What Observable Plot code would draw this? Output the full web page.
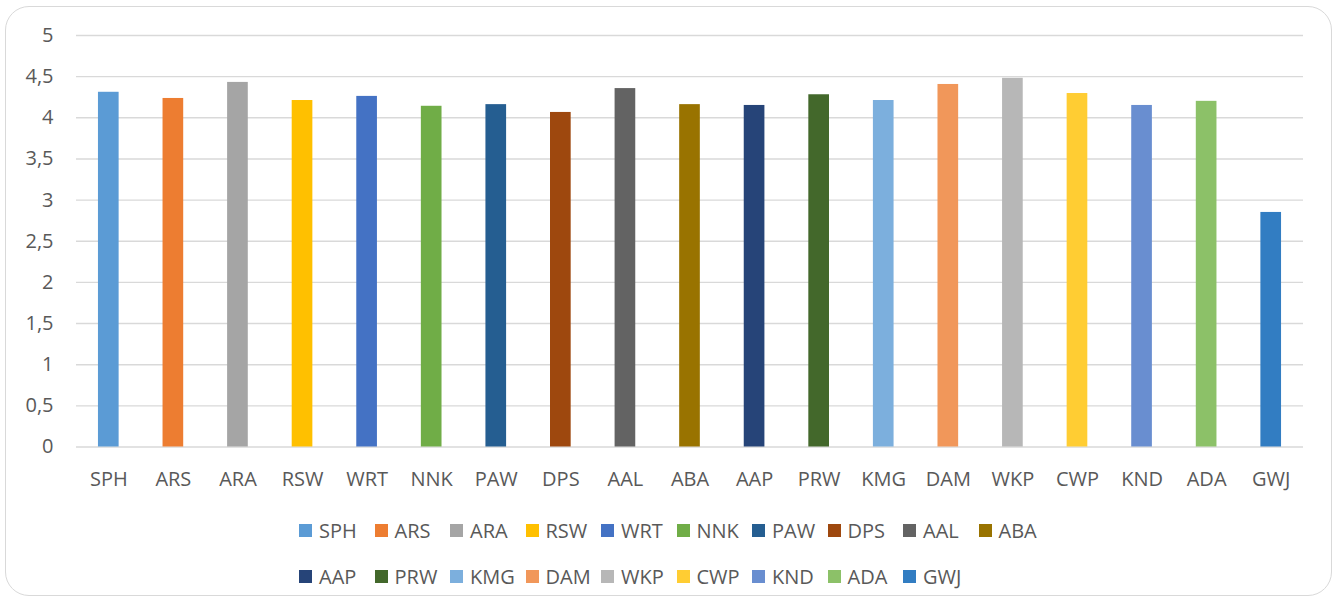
<!DOCTYPE html>
<html>
<head>
<meta charset="utf-8">
<script src="https://cdn.jsdelivr.net/npm/d3@7"></script>
<script src="https://cdn.jsdelivr.net/npm/@observablehq/plot@0.6"></script>
<style>
  html, body { margin: 0; padding: 0; background: #fff; }
  body { width: 1339px; height: 602px; position: relative; overflow: hidden; font-family: "Open Sans", sans-serif; }
  #frame { position: absolute; left: 5px; top: 6px; width: 1327px; height: 590px; border: 1.3px solid #d9d9d9; border-radius: 24px; box-sizing: border-box; }
  #chart { position: absolute; left: 0; top: 0; }
  #legend { position: absolute; left: 299px; top: 516px; display: grid; grid-template-columns: repeat(10, 75.5px); row-gap: 17px; color: #595959; font-size: 20px; }
  .item { display: flex; align-items: center; height: 29px; white-space: nowrap; }
  .sw { width: 13px; height: 13px; margin-right: 7px; flex: none; }
</style>
</head>
<body>
<div id="frame"></div>
<div id="chart"></div>
<div id="legend"></div>
<script>
const categories = ["SPH","ARS","ARA","RSW","WRT","NNK","PAW","DPS","AAL","ABA","AAP","PRW","KMG","DAM","WKP","CWP","KND","ADA","GWJ"];
const values = [4.31,4.235,4.43,4.21,4.26,4.14,4.16,4.065,4.355,4.16,4.15,4.28,4.21,4.405,4.48,4.295,4.15,4.20,2.85];
const colors = ["#5B9BD5","#ED7D31","#A5A5A5","#FFC000","#4472C4","#70AD47","#255E91","#9E480E","#636363","#997300","#264478","#43682B","#7CAFDD","#F1975A","#B7B7B7","#FFCD33","#698ED0","#8CC168","#327DC2"];
const yTicks = [0,0.5,1,1.5,2,2.5,3,3.5,4,4.5,5];

const data = categories.map((c, i) => ({cat: c, value: values[i]}));
const fmt = d => String(d).replace(".", ",");

const chart = Plot.plot({
  width: 1339,
  height: 500,
  marginTop: 35,
  marginBottom: 53.5,
  marginLeft: 76,
  marginRight: 36,
  style: {fontFamily: "'Open Sans', sans-serif", fontSize: "20px", color: "#595959", background: "transparent"},
  x: {domain: categories, paddingInner: 0.68, paddingOuter: 0.34, round: false, label: null},
  y: {domain: [0, 5], label: null},
  color: {domain: categories, range: colors},
  marks: [
    Plot.ruleY(yTicks, {stroke: "#d9d9d9", strokeWidth: 1.4}),
    Plot.barY(data, {x: "cat", y: "value", fill: "cat"}),
    Plot.axisX({tickSize: 0, tickPadding: 25, label: null}),
    Plot.axisY({ticks: yTicks, tickSize: 0, tickPadding: 23, tickFormat: fmt, label: null})
  ]
});
document.getElementById("chart").appendChild(chart);

const legend = document.getElementById("legend");
categories.forEach((c, i) => {
  const item = document.createElement("div");
  item.className = "item";
  const sw = document.createElement("span");
  sw.className = "sw";
  sw.style.background = colors[i];
  const t = document.createElement("span");
  t.textContent = c;
  item.appendChild(sw);
  item.appendChild(t);
  legend.appendChild(item);
});
</script>
</body>
</html>
